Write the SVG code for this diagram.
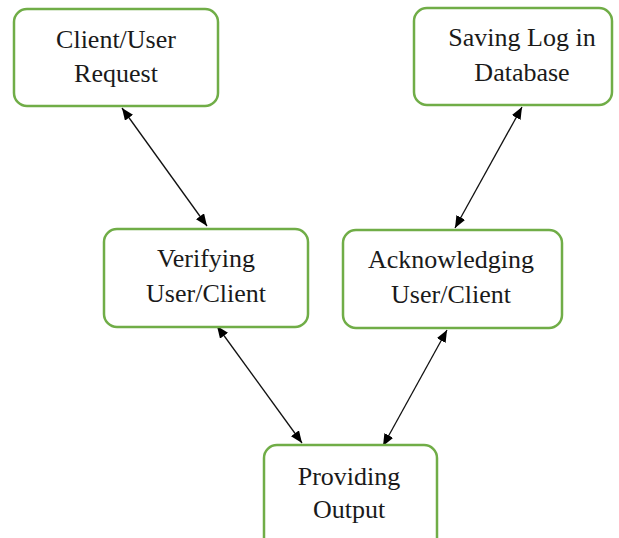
<svg xmlns="http://www.w3.org/2000/svg" width="619" height="538" viewBox="0 0 619 538">
  <defs>
    <marker id="head" viewBox="0 0 12 10" refX="12" refY="5" markerWidth="12" markerHeight="10" markerUnits="userSpaceOnUse" orient="auto-start-reverse">
      <path d="M0,0 L12,5 L0,10 z" fill="#000"/>
    </marker>
    <style>
      .box { fill: #fff; stroke: #70AD47; stroke-width: 2.5; }
      .label { font-family: "Liberation Serif", "Times New Roman", serif; font-size: 26px; fill: #1a1a1a; text-anchor: middle; }
      .link { stroke: #111; stroke-width: 1.3; fill: none; marker-start: url(#head); marker-end: url(#head); }
    </style>
  </defs>
  <rect width="619" height="538" fill="#fff"/>

  <g id="connectors">
    <line class="link" x1="122" y1="108" x2="207" y2="226"/>
    <line class="link" x1="522" y1="107" x2="455" y2="228"/>
    <line class="link" x1="217" y1="326" x2="302" y2="443"/>
    <line class="link" x1="447" y1="330" x2="383" y2="446"/>
  </g>

  <g id="client-request">
    <rect class="box" x="14" y="9" width="204" height="97" rx="13"/>
    <text class="label" x="116" y="48">Client/User</text>
    <text class="label" x="116" y="82">Request</text>
  </g>

  <g id="saving-log">
    <rect class="box" x="414" y="8" width="198" height="97" rx="13"/>
    <text class="label" x="522" y="46">Saving Log in</text>
    <text class="label" x="522" y="81">Database</text>
  </g>

  <g id="verifying">
    <rect class="box" x="104" y="229" width="204" height="98" rx="13"/>
    <text class="label" x="206" y="267">Verifying</text>
    <text class="label" x="206" y="302">User/Client</text>
  </g>

  <g id="acknowledging">
    <rect class="box" x="343" y="230" width="219" height="98" rx="13"/>
    <text class="label" x="451" y="268">Acknowledging</text>
    <text class="label" x="451" y="303">User/Client</text>
  </g>

  <g id="providing-output">
    <rect class="box" x="264" y="445" width="173" height="110" rx="13"/>
    <text class="label" x="349" y="485">Providing</text>
    <text class="label" x="349" y="518">Output</text>
  </g>
</svg>
